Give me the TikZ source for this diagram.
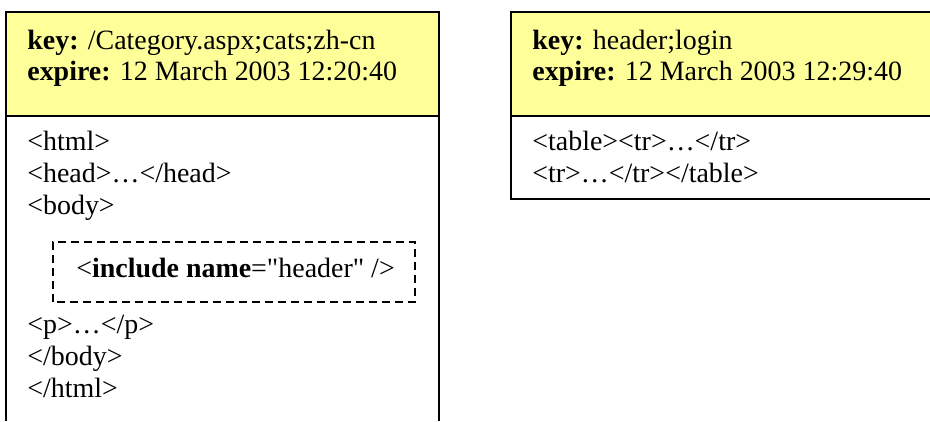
\documentclass[tikz,border=0pt]{standalone}
\usepackage{fontspec}
\setmainfont{Liberation Serif}
\usepackage{xcolor}
\definecolor{cachey}{RGB}{255,255,153}
\usepackage{tikz}

\tikzset{
  txt/.style={font=\fontsize{15.9}{17.6}\selectfont, anchor=base west, inner sep=0pt},
  frame/.style={draw=black, line width=0.85pt},
}

\begin{document}
\begin{tikzpicture}
  \useasboundingbox (0,0) rectangle (18.6,8.42);

  % --- Left cache entry (page) ---
  \fill[cachey] (0.12,6.10) rectangle (8.78,8.18);
  \draw[frame] (0.12,0) -- (0.12,8.18) -- (8.78,8.18) -- (8.78,0);
  \draw[frame] (0.12,6.10) -- (8.78,6.10);
  \node[txt] (lkey) at (0.54,7.44) {\textbf{key:} /Category.aspx;cats;zh-cn};
  \node[txt] (lexp) at (0.54,6.82) {\textbf{expire:} 12 March 2003 12:20:40};
  \node[txt] (lhtml) at (0.54,5.42) {<html>};
  \node[txt] (lhead) at (0.54,4.78) {<head>…</head>};
  \node[txt] (lbody) at (0.54,4.14) {<body>};
  % include placeholder
  \draw[line width=0.85pt, dash pattern=on 0.16cm off 0.1cm] (1.06,2.38) rectangle (8.30,3.58);
  \node[txt] (linc) at (1.52,2.88) {<\textbf{include name}=\textquotedbl header\textquotedbl{} />};
  \node[txt] (lp) at (0.54,1.76) {<p>…</p>};
  \node[txt] (lbodyend) at (0.54,1.12) {</body>};
  \node[txt] (lhtmlend) at (0.54,0.48) {</html>};

  % --- Right cache entry (fragment) ---
  \fill[cachey] (10.22,6.10) rectangle (18.6,8.18);
  \draw[frame] (18.6,8.18) -- (10.22,8.18) -- (10.22,4.44) -- (18.6,4.44);
  \draw[frame] (10.22,6.10) -- (18.6,6.10);
  \node[txt] (rkey) at (10.64,7.44) {\textbf{key:} header;login};
  \node[txt] (rexp) at (10.64,6.82) {\textbf{expire:} 12 March 2003 12:29:40};
  \node[txt] (rtab) at (10.64,5.42) {<table><tr>…</tr>};
  \node[txt] (rtr) at (10.64,4.78) {<tr>…</tr></table>};
\end{tikzpicture}
\end{document}
